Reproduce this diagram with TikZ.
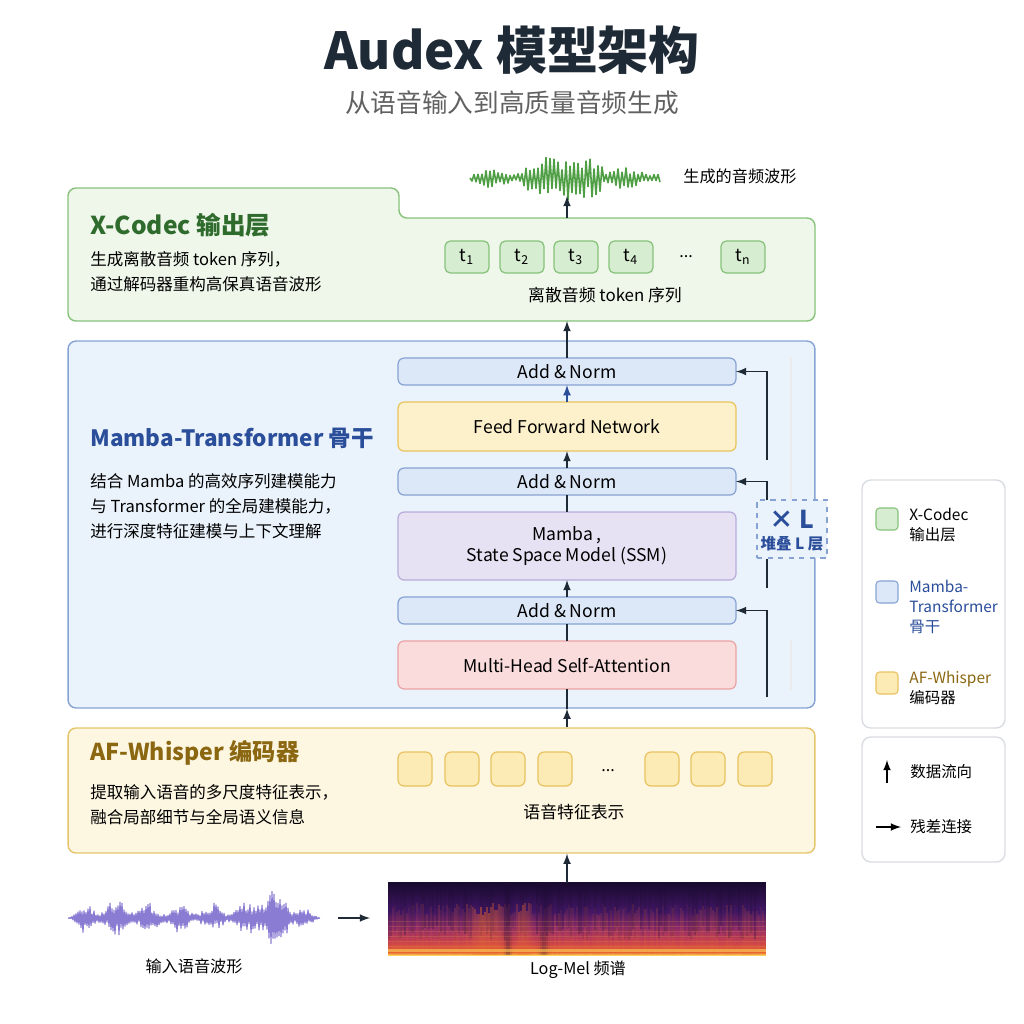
\documentclass[tikz,border=0pt]{standalone}
\usepackage{fontspec}
\setmainfont{Noto Sans CJK SC}
\usetikzlibrary{shapes,arrows,positioning,calc}

\definecolor{inkdark}{HTML}{1F2A37}
\definecolor{xcfill}{HTML}{EEF7EA}
\definecolor{xcline}{HTML}{86C27A}
\definecolor{xctitle}{HTML}{2F6B2C}
\definecolor{tokfill}{HTML}{D7EDD1}
\definecolor{wavegreen}{HTML}{4E9E44}
\definecolor{mtfill}{HTML}{EAF2FB}
\definecolor{mtline}{HTML}{86A3D3}
\definecolor{mttitle}{HTML}{2B4E9B}
\definecolor{anfill}{HTML}{DCE8F8}
\definecolor{ffnfill}{HTML}{FDF1CB}
\definecolor{ffnline}{HTML}{EAC45C}
\definecolor{mbfill}{HTML}{E7E2F3}
\definecolor{mbline}{HTML}{B8ABDA}
\definecolor{mhfill}{HTML}{FBDCDC}
\definecolor{mhline}{HTML}{EBA3A3}
\definecolor{affill}{HTML}{FDF6E1}
\definecolor{afline}{HTML}{E5C56C}
\definecolor{aftitle}{HTML}{8A6710}
\definecolor{featfill}{HTML}{FDEBB5}
\definecolor{featline}{HTML}{E9C260}
\definecolor{wavepurple}{HTML}{8A7BD3}
\definecolor{specdark}{HTML}{1A0B30}
\definecolor{specpurple}{HTML}{45186A}
\definecolor{specmagenta}{HTML}{8E2A6C}
\definecolor{specred}{HTML}{C8404E}
\definecolor{specorange}{HTML}{E8662E}
\definecolor{specyellow}{HTML}{FCD25C}
\definecolor{legline}{HTML}{D9DDE3}

\pgfdeclareverticalshading{specshade}{100bp}{color(0bp)=(specyellow); color(25bp)=(specyellow); color(27bp)=(specorange); color(34bp)=(specred); color(44bp)=(specmagenta); color(55bp)=(specpurple); color(75bp)=(specdark); color(100bp)=(specdark)}

\begin{document}
\begin{tikzpicture}[x=0.02cm, y=-0.02cm, node distance=0.34cm, >=latex]
    \tikzstyle{panel} = [rectangle, draw, line width=0.8pt, rounded corners=4.5pt, minimum width=14.94cm]
    \tikzstyle{ptitle} = [anchor=west, inner sep=0pt, font=\fontsize{14}{17}\selectfont\bfseries]
    \tikzstyle{pdesc} = [anchor=west, inner sep=0pt, align=left, font=\fontsize{9.4}{14.2}\selectfont]
    \tikzstyle{layerbox} = [rectangle, draw, line width=0.7pt, rounded corners=3.5pt, minimum width=6.76cm, align=center, inner sep=0pt, outer sep=0pt, font=\fontsize{10}{12}\selectfont]
    \tikzstyle{addnorm} = [layerbox, fill=anfill, draw=mtline, minimum height=0.54cm]
    \tikzstyle{tokenbox} = [rectangle, draw=xcline, fill=tokfill, line width=0.7pt, rounded corners=3pt, minimum width=0.88cm, minimum height=0.64cm, inner sep=0pt, font=\fontsize{10}{12}\selectfont]
    \tikzstyle{featbox} = [rectangle, draw=featline, fill=featfill, line width=0.7pt, rounded corners=3.5pt, minimum width=0.68cm, minimum height=0.68cm, inner sep=0pt]
    \tikzstyle{swatch} = [rectangle, draw, line width=0.6pt, rounded corners=2pt, minimum width=0.44cm, minimum height=0.44cm, inner sep=0pt]
    \tikzstyle{legtext} = [anchor=west, inner sep=0pt, align=left, font=\fontsize{8.8}{11.3}\selectfont]
    \tikzstyle{small} = [inner sep=0pt, font=\fontsize{9.2}{11}\selectfont]
    \tikzstyle{flowline} = [draw=inkdark, line width=1pt]
    \tikzstyle{resline} = [draw=inkdark, line width=1pt, -latex]

    \useasboundingbox (0,0) rectangle (1024,1024);
    \fill[white] (0,0) rectangle (1024,1024);

    % title
    \node[font=\fontsize{29}{34}\selectfont\bfseries, text=inkdark] (title) at (512,50) {Audex 模型架构};
    \node[font=\fontsize{14.6}{18}\selectfont, text=black!62] (subtitle) at (512,103) {从语音输入到高质量音频生成};

    % X-Codec output layer
    \draw[fill=xcfill, draw=xcline, line width=0.8pt, rounded corners=4.5pt]
        (68,321) -- (68,188) -- (399,188) -- (399,218) -- (815,218) -- (815,321) -- cycle;
    \coordinate (xctop) at (567,218);
    \coordinate (xcbottom) at (567,321);
    \node[ptitle, text=xctitle] (xctitle) at (90,225) {X-Codec 输出层};
    \node[pdesc] (xcdesc) at (90,272) {生成离散音频 token 序列，\\通过解码器重构高保真语音波形};
    \foreach \i/\x in {1/467,2/522,3/576,4/631}
        \node[tokenbox] (tok\i) at (\x,257) {t\textsubscript{\i}};
    \node[small] (tokdots) at (686,257) {...};
    \node[tokenbox] (tokn) at (743,257) {t\textsubscript{n}};
    \node[small, font=\fontsize{9.6}{11}\selectfont] (toklabel) at (605,295) {离散音频 token 序列};

    % generated waveform
    \pgfmathsetseed{11}
    \draw[wavegreen, line width=0.9pt, line join=round] (470,178)
        \foreach \k in {1,...,95} {
            -- ({470+2*\k}, {178 + (2 + 19*exp(-(((470+2*\k)-568)/36)^2) + 8*abs(sin(2*\k*4)))*(0.35+0.65*rnd)*ifthenelse(isodd(\k),1,-1)})
        };
    \coordinate (waveout) at (567,196);
    \node[small, anchor=west] (wavelabel) at (683,176) {生成的音频波形};

    % Mamba-Transformer backbone
    \node[panel, fill=mtfill, draw=mtline, minimum height=7.34cm] (mambapanel) at (441.5,524.5) {};
    \node[ptitle, text=mttitle, font=\fontsize{12.8}{16}\selectfont\bfseries] (mttitle) at (90,438) {Mamba-Transformer 骨干};
    \node[pdesc] (mtdesc) at (90,506) {结合 Mamba 的高效序列建模能力\\与 Transformer 的全局建模能力，\\进行深度特征建模与上下文理解};

    \node[layerbox, fill=mhfill, draw=mhline, minimum height=0.96cm] (mhsa) at (567,665) {Multi-Head Self-Attention};
    \node[addnorm, above=of mhsa] (an3) {Add \& Norm};
    \node[layerbox, fill=mbfill, draw=mbline, minimum height=1.36cm, above=of an3] (mamba) {Mamba ,\\State Space Model (SSM)};
    \node[addnorm, above=of mamba] (an2) {Add \& Norm};
    \node[layerbox, fill=ffnfill, draw=ffnline, minimum height=0.98cm, above=of an2] (ffn) {Feed Forward Network};
    \node[addnorm, above=of ffn] (an1) {Add \& Norm};

    % faint guides
    \draw[black!8, line width=0.6pt] (791,357) -- (791,500);
    \draw[black!8, line width=0.6pt] (791,640) -- (791,690);

    % stack x L
    \node[draw=mtline, dashed, line width=0.7pt, fill=mtfill, minimum width=1.4cm, minimum height=1.16cm, inner sep=0pt] (stackbox) at (792,529) {};
    \node[text=mttitle, font=\fontsize{14}{16}\selectfont\bfseries, inner sep=0pt] (xl) at (792,519) {× L};
    \node[text=mttitle, font=\fontsize{8.8}{10}\selectfont\bfseries, inner sep=0pt] (xltext) at (792,544) {堆叠 L 层};

    % residual connections
    \coordinate (res3) at (767,697);
    \coordinate (res2a) at (767,588);
    \coordinate (res2b) at (767,500);
    \coordinate (res1) at (767,460);
    \path [resline] (res3) |- (an3.east);
    \path [flowline] (res2a) -- (res2a |- stackbox.south);
    \path [resline] (res2b) |- (an2.east);
    \path [resline] (res1) |- (an1.east);

    % AF-Whisper encoder
    \node[panel, fill=affill, draw=afline, minimum height=2.5cm] (afpanel) at (441.5,790.5) {};
    \node[ptitle, text=aftitle, font=\fontsize{13.2}{16}\selectfont\bfseries] (aftitle) at (90,753) {AF-Whisper 编码器};
    \node[pdesc] (afdesc) at (90,805) {提取输入语音的多尺度特征表示，\\融合局部细节与全局语义信息};
    \foreach \i/\x in {1/415,2/462,3/508,4/555,5/662,6/708,7/755}
        \node[featbox] (feat\i) at (\x,769) {};
    \node[small] (featdots) at (608,771) {...};
    \node[small, font=\fontsize{9.6}{11}\selectfont] (featlabel) at (574,812) {语音特征表示};

    % input
    \draw[wavepurple, line width=0.7pt, line join=round] (68,918)
        \foreach \k in {1,...,252} {
            -- ({68+\k}, {918 + min(1,\k/14,(252-\k)/22)*(4 + 11*abs(sin(\k*5.6))^2 + 15*exp(-((\k-205)/18)^2) + 6*exp(-((\k-50)/14)^2))*(0.35+0.65*rnd)*ifthenelse(isodd(\k),1,-1)})
        };
    \node[small] (inlabel) at (194,966) {输入语音波形};
    \coordinate (inwave) at (338,918);
    \coordinate (tospec) at (370,918);

    \node[rectangle, minimum width=7.56cm, minimum height=1.44cm, inner sep=0pt, shading=specshade] (specto) at (577,919) {};
    \begin{scope}
        \clip (specto.north west) rectangle (specto.south east);
        \pgfmathsetseed{5}
        \foreach \k in {0,...,188} {
            \pgfmathsetmacro\xx{388+2*\k}
            \pgfmathsetmacro\op{0.3*rnd}
            \pgfmathsetmacro\yd{925+15*rnd}
            \fill[specdark, opacity=\op] (\xx,883) rectangle (\xx+2,\yd);
            \pgfmathsetmacro\oq{min(0.75,0.18*rnd + 0.4*exp(-((\xx-485)/16)^2) + 0.3*exp(-((\xx-522)/8)^2))}
            \pgfmathsetmacro\yo{915-12*rnd}
            \fill[specorange, opacity=\oq] (\xx,955) rectangle (\xx+2,\yo);
            \pgfmathsetmacro\og{0.35*exp(-((\xx-507)/3)^2) + 0.3*exp(-((\xx-543)/4)^2)}
            \fill[specdark, opacity=\og] (\xx,883) rectangle (\xx+2,955);
        }
        \foreach \yy in {921,926,...,946}
            \draw[specyellow, opacity=0.15, line width=0.4pt] (388,\yy) -- (766,\yy);
        \fill[specyellow, opacity=0.6] (388,949) rectangle (766,952);
    \end{scope}
    \draw[specdark, line width=0.8pt] (specto.north west) -- (specto.north east);
    \node[small] (speclabel) at (578,970) {Log-Mel 频谱};
    \path [draw=inkdark, line width=1pt, -latex] (inwave) -- (tospec);

    % data flow
    \path [draw=inkdark, line width=1pt, -latex] (specto.north -| mhsa) -- (afpanel.south -| mhsa);
    \path [draw=inkdark, line width=1pt, -latex] (afpanel.north -| mhsa) -- (mambapanel.south -| mhsa);
    \path [flowline] (mambapanel.south -| mhsa) -- (mhsa.south);
    \path [flowline] (mhsa) -- (an3);
    \path [draw=inkdark, line width=1pt, -latex] (an3) -- (mamba);
    \path [flowline] (mamba) -- (an2);
    \path [draw=inkdark, line width=1pt, -latex] (an2) -- (ffn);
    \path [draw=mttitle, line width=1pt, -latex] (ffn) -- (an1);
    \path [flowline] (an1) -- (an1 |- mambapanel.north);
    \path [draw=inkdark, line width=1pt, -latex] (mambapanel.north -| mhsa) -- (xcbottom);
    \path [draw=inkdark, line width=1pt, -latex] (xctop) -- (waveout);

    % legend
    \node[rectangle, draw=legline, fill=white, line width=0.8pt, rounded corners=5pt, minimum width=2.86cm, minimum height=4.96cm] (legbox) at (933.5,604) {};
    \node[swatch, fill=tokfill, draw=xcline] (legxc) at (887,519) {};
    \node[legtext] (legxctext) at (909,525) {X-Codec\\输出层};
    \node[swatch, fill=anfill, draw=mtline] (legmt) at (887,592) {};
    \node[legtext, text=mttitle] (legmttext) at (909,607) {Mamba-\\Transformer\\骨干};
    \node[swatch, fill=featfill, draw=featline] (legaf) at (887,683) {};
    \node[legtext] (legaftext) at (909,688) {\textcolor{aftitle}{AF-Whisper}\\编码器};

    \node[rectangle, draw=legline, fill=white, line width=0.8pt, rounded corners=5pt, minimum width=2.86cm, minimum height=2.5cm] (legbox2) at (933.5,799.5) {};
    \coordinate (legupa) at (887,783);
    \coordinate (legupb) at (887,760);
    \path [draw=black, line width=1pt, -latex] (legupa) -- (legupb);
    \node[legtext] (legflow) at (910,772) {数据流向};
    \coordinate (legresa) at (876,827);
    \coordinate (legresb) at (901,827);
    \path [draw=black, line width=1pt, -latex] (legresa) -- (legresb);
    \node[legtext] (legres) at (910,827) {残差连接};
\end{tikzpicture}
\end{document}
